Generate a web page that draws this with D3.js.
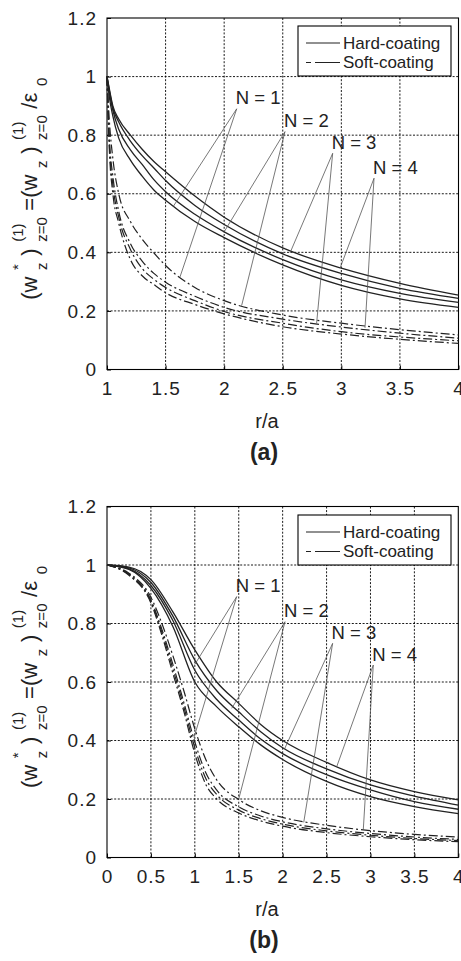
<!DOCTYPE html>
<html><head><meta charset="utf-8">
<script src="https://cdn.jsdelivr.net/npm/d3@7"></script>
<style>
body{margin:0;background:#fff;}
svg{display:block;font-family:"Liberation Sans",Arial,sans-serif;}
</style></head><body>
<svg id="fig" width="461" height="961"></svg>
<script>
// ---- panel (a): r/a from 1 to 4 ----
const rA = [1, 1.02, 1.05, 1.1, 1.2, 1.3, 1.4, 1.5, 1.75, 2, 2.5, 3, 3.5, 4];
const hardA = [
  [1, 0.93, 0.865, 0.79, 0.715, 0.66, 0.613, 0.578, 0.505, 0.45, 0.357, 0.287, 0.241, 0.212],  // N = 1
  [1, 0.945, 0.885, 0.82, 0.75, 0.70, 0.648, 0.607, 0.53, 0.47, 0.375, 0.306, 0.26, 0.229],    // N = 2
  [1, 0.953, 0.893, 0.845, 0.78, 0.73, 0.688, 0.645, 0.56, 0.495, 0.395, 0.328, 0.277, 0.243], // N = 3
  [1, 0.958, 0.9, 0.855, 0.8, 0.752, 0.71, 0.675, 0.592, 0.52, 0.415, 0.346, 0.294, 0.254]     // N = 4
];
const softA = [
  [1, 0.75, 0.6, 0.5, 0.375, 0.32, 0.29, 0.262, 0.222, 0.19, 0.146, 0.121, 0.103, 0.089],
  [1, 0.77, 0.63, 0.52, 0.41, 0.345, 0.308, 0.28, 0.235, 0.198, 0.158, 0.129, 0.111, 0.098],
  [1, 0.79, 0.66, 0.54, 0.43, 0.37, 0.328, 0.298, 0.25, 0.212, 0.172, 0.145, 0.124, 0.107],
  [1, 0.85, 0.72, 0.6, 0.505, 0.445, 0.398, 0.355, 0.28, 0.235, 0.186, 0.158, 0.136, 0.118]
];

// ---- panel (b): r/a from 0 to 4 ----
const rHardB = [0, 0.25, 0.5, 0.75, 1, 1.25, 1.5, 1.75, 2, 2.5, 3, 3.5, 4];
const hardB = [
  [1, 0.985, 0.92, 0.79, 0.60, 0.515, 0.447, 0.385, 0.335, 0.26, 0.208, 0.174, 0.15],
  [1, 0.987, 0.93, 0.81, 0.64, 0.54, 0.47, 0.405, 0.355, 0.283, 0.231, 0.191, 0.165],
  [1, 0.99, 0.94, 0.825, 0.675, 0.57, 0.498, 0.43, 0.375, 0.303, 0.248, 0.21, 0.179],
  [1, 0.993, 0.95, 0.84, 0.71, 0.60, 0.527, 0.455, 0.40, 0.325, 0.265, 0.225, 0.197]
];
const rSoftB = [0, 0.25, 0.5, 0.625, 0.75, 0.875, 1, 1.125, 1.25, 1.5, 1.75, 2, 2.5, 3, 3.5, 4];
const softB = [
  [1, 0.965, 0.87, 0.76, 0.63, 0.5, 0.355, 0.25, 0.2, 0.152, 0.125, 0.107, 0.085, 0.071, 0.061, 0.054],
  [1, 0.967, 0.875, 0.77, 0.645, 0.515, 0.375, 0.27, 0.215, 0.162, 0.133, 0.114, 0.091, 0.076, 0.065, 0.058],
  [1, 0.969, 0.88, 0.78, 0.66, 0.53, 0.395, 0.29, 0.23, 0.173, 0.142, 0.122, 0.098, 0.082, 0.07, 0.062],
  [1, 0.972, 0.89, 0.8, 0.69, 0.57, 0.44, 0.335, 0.265, 0.198, 0.16, 0.137, 0.11, 0.092, 0.079, 0.07]
];

// ---- ticks and labels ----
const xTicksA = [1, 1.5, 2, 2.5, 3, 3.5, 4];
const xTicksB = [0, 0.5, 1, 1.5, 2, 2.5, 3, 3.5, 4];
const yTicks = [0, 0.2, 0.4, 0.6, 0.8, 1, 1.2];
const legendLabels = ["Hard-coating", "Soft-coating"];
const nLabels = ["N = 1", "N = 2", "N = 3", "N = 4"];
const xTitle = "r/a";

// callout anchors (label point, then points on the hard and soft curves), in data units
const calloutsA = [
  {from: [2.107, 0.89],  to: [[1.566, 0.557], [1.623, 0.316]]},
  {from: [2.519, 0.812], to: [[2.0, 0.47],    [2.149, 0.218]]},
  {from: [2.926, 0.738], to: [[2.562, 0.398], [2.789, 0.158]]},
  {from: [3.279, 0.653], to: [[2.989, 0.346], [3.202, 0.142]]}
];
const calloutsB = [
  {from: [1.477, 0.892], to: [[1.0, 0.66],  [0.99, 0.41]]},
  {from: [2.027, 0.806], to: [[1.42, 0.51], [1.5, 0.2]]},
  {from: [2.569, 0.732], to: [[2.02, 0.37], [2.24, 0.12]]},
  {from: [3.032, 0.658], to: [[2.615, 0.31], [2.918, 0.094]]}
];

const svg = d3.select("#fig");
const SOFT_DASH = "9,3,2,3";

function drawPanel(cfg) {
  const x = d3.scaleLinear().domain(cfg.xDomain).range([cfg.left, cfg.right]);
  const y = d3.scaleLinear().domain([0, 1.2]).range([cfg.bottom, cfg.top]);
  const g = svg.append("g");

  // dotted grid
  const grid = g.append("g").attr("stroke", "#000").attr("stroke-width", 0.9)
    .attr("stroke-dasharray", "2,1.6").attr("fill", "none");
  grid.selectAll("line.gx").data(cfg.xTicks.slice(1, -1)).join("line")
    .attr("x1", d => x(d)).attr("x2", d => x(d)).attr("y1", cfg.top).attr("y2", cfg.bottom);
  grid.selectAll("line.gy").data(yTicks.slice(1, -1)).join("line")
    .attr("x1", cfg.left).attr("x2", cfg.right).attr("y1", d => y(d)).attr("y2", d => y(d));

  // axes with inward ticks and labels
  const xAxis = d3.axisBottom(x).tickValues(cfg.xTicks).tickSize(-4).tickPadding(12)
    .tickFormat(d3.format("~g"));
  const yAxis = d3.axisLeft(y).tickValues(yTicks).tickSize(-4).tickPadding(10)
    .tickFormat(d3.format("~g"));
  const gx = g.append("g").attr("transform", `translate(0,${cfg.bottom})`).call(xAxis);
  const gy = g.append("g").attr("transform", `translate(${cfg.left},0)`).call(yAxis);
  [gx, gy].forEach(a => {
    a.select(".domain").remove();
    a.selectAll("line").attr("stroke", "#000");
    a.selectAll("text").attr("font-size", 19).attr("letter-spacing", "1px")
      .attr("fill", "#222").attr("font-family", "Liberation Sans, Arial, sans-serif");
  });
  gx.selectAll("text").attr("dy", "0.71em");

  // plot box
  g.append("rect").attr("x", cfg.left).attr("y", cfg.top)
    .attr("width", cfg.right - cfg.left).attr("height", cfg.bottom - cfg.top)
    .attr("fill", "none").attr("stroke", "#000").attr("stroke-width", 1.1);

  // curves
  const line = d3.line().curve(d3.curveMonotoneX);
  const curves = g.append("g").attr("fill", "none").attr("stroke", "#222");
  cfg.hard.forEach(vals => {
    curves.append("path").attr("stroke-width", 1.3)
      .attr("d", line(vals.map((v, i) => [x(cfg.rHard[i]), y(v)])));
  });
  cfg.soft.forEach(vals => {
    curves.append("path").attr("stroke-width", 1.2).attr("stroke-dasharray", SOFT_DASH)
      .attr("d", line(vals.map((v, i) => [x(cfg.rSoft[i]), y(v)])));
  });

  // callouts
  const co = g.append("g");
  cfg.callouts.forEach((c, i) => {
    const fx = x(c.from[0]), fy = y(c.from[1]);
    c.to.forEach(t => {
      co.append("line").attr("x1", fx).attr("y1", fy).attr("x2", x(t[0])).attr("y2", y(t[1]))
        .attr("stroke", "#555").attr("stroke-width", 0.8);
    });
    co.append("text").attr("x", fx - 1).attr("y", fy - 4.5).attr("font-size", 18.5)
      .attr("fill", "#222").text(nLabels[i]);
  });

  // legend
  const lg = g.append("g");
  lg.append("rect").attr("x", cfg.legend.x).attr("y", cfg.legend.y).attr("width", 153).attr("height", 50)
    .attr("fill", "#fff").attr("stroke", "#000").attr("stroke-width", 1.1);
  legendLabels.forEach((lab, i) => {
    const cy = cfg.legend.y + 17 + i * 19.5;
    lg.append("line").attr("x1", cfg.legend.x + 8).attr("x2", cfg.legend.x + 42)
      .attr("y1", cy).attr("y2", cy).attr("stroke", "#222").attr("stroke-width", 1.2)
      .attr("stroke-dasharray", i === 0 ? null : "5,4,25");
    lg.append("text").attr("x", cfg.legend.x + 45).attr("y", cy).attr("dy", "0.35em")
      .attr("font-size", 17).attr("fill", "#222").text(lab);
  });

  // axis titles
  g.append("text").attr("x", 267).attr("y", cfg.bottom + 58).attr("text-anchor", "middle")
    .attr("font-size", 20).attr("fill", "#222").text(xTitle);
  g.append("text").attr("x", 264).attr("y", cfg.bottom + 90).attr("text-anchor", "middle")
    .attr("font-size", 23).attr("font-weight", "bold").attr("fill", "#222").text(cfg.caption);

  yTitle(g, 37, (cfg.top + cfg.bottom) / 2 - 5, 222);
}

// rotated y title with stacked super/subscripts, spread to the given length
function yTitle(g, bx, cy, span) {
  const MAIN = 22, SCR = 15, SUP = 14, SUB = 10;
  const grp = g.append("g").attr("transform", `translate(${bx},${cy}) rotate(-90)`);
  const inner = grp.append("g").attr("fill", "#222");
  const tokens = [
    {t: "(w"}, {sup: "*", sub: "z"}, {t: ")"}, {sup: "(1)", sub: "z=0"},
    {t: "=(w"}, {sub: "z"}, {t: ")"}, {sup: "(1)", sub: "z=0"},
    {t: "/ε"}, {sub: "0"}
  ];
  // first pass: create and measure
  const items = tokens.map(k => {
    const els = [];
    if (k.t) els.push(inner.append("text").attr("font-size", MAIN).attr("y", 0).text(k.t));
    if (k.sup) els.push(inner.append("text").attr("font-size", SCR).attr("y", -SUP).text(k.sup));
    if (k.sub) els.push(inner.append("text").attr("font-size", SCR).attr("y", SUB).text(k.sub));
    const w = d3.max(els, e => e.node().getComputedTextLength());
    return {els, w};
  });
  const natural = d3.sum(items, d => d.w);
  const gap = Math.max(0, (span - natural) / (items.length - 1));
  let cx = 0;
  items.forEach(it => {
    it.els.forEach(e => e.attr("x", cx));
    cx += it.w + gap;
  });
  const total = cx - gap;
  inner.attr("transform", `translate(${-total / 2},0)`);
}

drawPanel({
  left: 107, right: 458.5, top: 18, bottom: 369.5,
  xDomain: [1, 4], xTicks: xTicksA,
  rHard: rA, hard: hardA, rSoft: rA, soft: softA,
  callouts: calloutsA, legend: {x: 298, y: 26}, caption: "(a)"
});
drawPanel({
  left: 107, right: 458.3, top: 506.5, bottom: 857.5,
  xDomain: [0, 4], xTicks: xTicksB,
  rHard: rHardB, hard: hardB, rSoft: rSoftB, soft: softB,
  callouts: calloutsB, legend: {x: 298, y: 515}, caption: "(b)"
});
</script>
</body></html>
